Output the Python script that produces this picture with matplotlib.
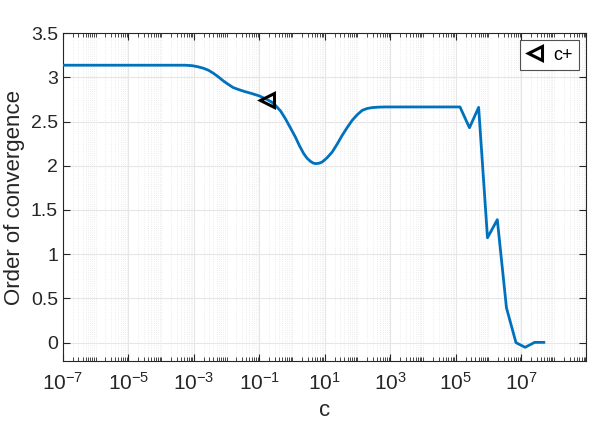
import numpy as np
import matplotlib
matplotlib.use("Agg")
import matplotlib.pyplot as plt
from matplotlib.ticker import LogLocator, FixedLocator, NullFormatter

plt.rcParams['font.family'] = ['Liberation Sans', 'DejaVu Sans']
plt.rcParams['mathtext.fontset'] = 'custom'
plt.rcParams['mathtext.rm'] = 'Liberation Sans'
plt.rcParams['mathtext.it'] = 'Liberation Sans:italic'
plt.rcParams['mathtext.bf'] = 'Liberation Sans:bold'
plt.rcParams['mathtext.sf'] = 'Liberation Sans'
plt.rcParams['axes.unicode_minus'] = False

# log10(c) and order of convergence
log_c = [-7.0, -5.0, -3.5, -3.265, -3.05, -2.857, -2.70, -2.551, -2.40, -2.245, -2.10, -1.939,
         -1.80, -1.632, -1.45, -1.222, -1.00, -0.763, -0.62, -0.509, -0.35, -0.203, -0.05,
         0.103, 0.23, 0.358, 0.46, 0.563, 0.64, 0.716, 0.82, 0.921, 1.07, 1.227, 1.38, 1.533,
         1.69, 1.839, 2.00, 2.146, 2.30, 2.452, 2.65, 2.859, 3.5, 4.5, 5.13,
         5.42, 5.70, 5.97, 6.27, 6.55, 6.84, 7.12, 7.41, 7.69]
order = [3.137, 3.137, 3.137, 3.137, 3.132, 3.118, 3.102, 3.080, 3.046, 3.004, 2.960, 2.919,
         2.885, 2.862, 2.840, 2.816, 2.790, 2.749, 2.720, 2.684, 2.620, 2.533, 2.430,
         2.325, 2.225, 2.137, 2.085, 2.050, 2.032, 2.024, 2.028, 2.042, 2.090, 2.155, 2.245, 2.344,
         2.435, 2.514, 2.580, 2.627, 2.648, 2.658, 2.663, 2.665, 2.665, 2.665, 2.665,
         2.430, 2.660, 1.186, 1.390, 0.393, 0.000, -0.053, 0.003, 0.003]

marker_log_c = [-0.763]
marker_order = [2.749]
marker_label = "c+"

x_tick_exps = [-7, -5, -3, -1, 1, 3, 5, 7]
y_ticks = [0, 0.5, 1, 1.5, 2, 2.5, 3, 3.5]
y_tick_labels = ['0', '0.5', '1', '1.5', '2', '2.5', '3', '3.5']

fig = plt.figure(figsize=(5.98, 4.30), dpi=100)
ax = fig.add_axes([0.105, 0.160, 0.875, 0.763])

c = 10.0 ** np.array(log_c)
ax.plot(c, order, color='#0072BD', lw=2.0, zorder=3, solid_joinstyle='round')
ax.plot(10.0 ** np.array(marker_log_c), marker_order, linestyle='none', marker='<',
        markersize=10, markerfacecolor='none', markeredgecolor='black',
        markeredgewidth=2.2, label=marker_label, zorder=4)

ax.set_xscale('log')
ax.set_xlim(1e-7, 10 ** 8.98)
ax.set_ylim(-0.21, 3.5)

ax.xaxis.set_major_locator(FixedLocator([10.0 ** e for e in x_tick_exps]))
ax.set_xticklabels([r'$\mathregular{10^{%d}}$' % e for e in x_tick_exps])
ax.xaxis.set_minor_locator(LogLocator(base=10, subs=np.arange(1, 10), numticks=100))
ax.xaxis.set_minor_formatter(NullFormatter())
ax.set_yticks(y_ticks)
ax.set_yticklabels(y_tick_labels)

ax.grid(True, which='major', color='#e6e6e6', lw=0.8, linestyle='-')
ax.grid(True, which='minor', axis='x', color='#e6e6e6', lw=0.6, linestyle=':')
ax.set_axisbelow(True)

for s in ax.spines.values():
    s.set_color('#262626')
    s.set_linewidth(0.8)
ax.tick_params(which='both', direction='in', top=True, right=True, colors='#262626',
               labelcolor='#262626')
ax.tick_params(axis='y', labelsize=14)
ax.tick_params(axis='x', labelsize=15, pad=8)
ax.tick_params(which='major', length=5, width=0.8)
ax.tick_params(which='minor', length=3, width=0.6)

ax.set_xlabel('c', fontsize=16, color='#262626')
ax.set_ylabel('Order of convergence', fontsize=16, color='#262626')

leg = ax.legend(loc='upper right', fontsize=13, frameon=True, fancybox=False,
                handlelength=1.0, handletextpad=0.5, borderpad=0.35, borderaxespad=0.4)
leg.get_frame().set_edgecolor('#262626')
leg.get_frame().set_linewidth(0.8)

fig.savefig('out.png', dpi=100)
